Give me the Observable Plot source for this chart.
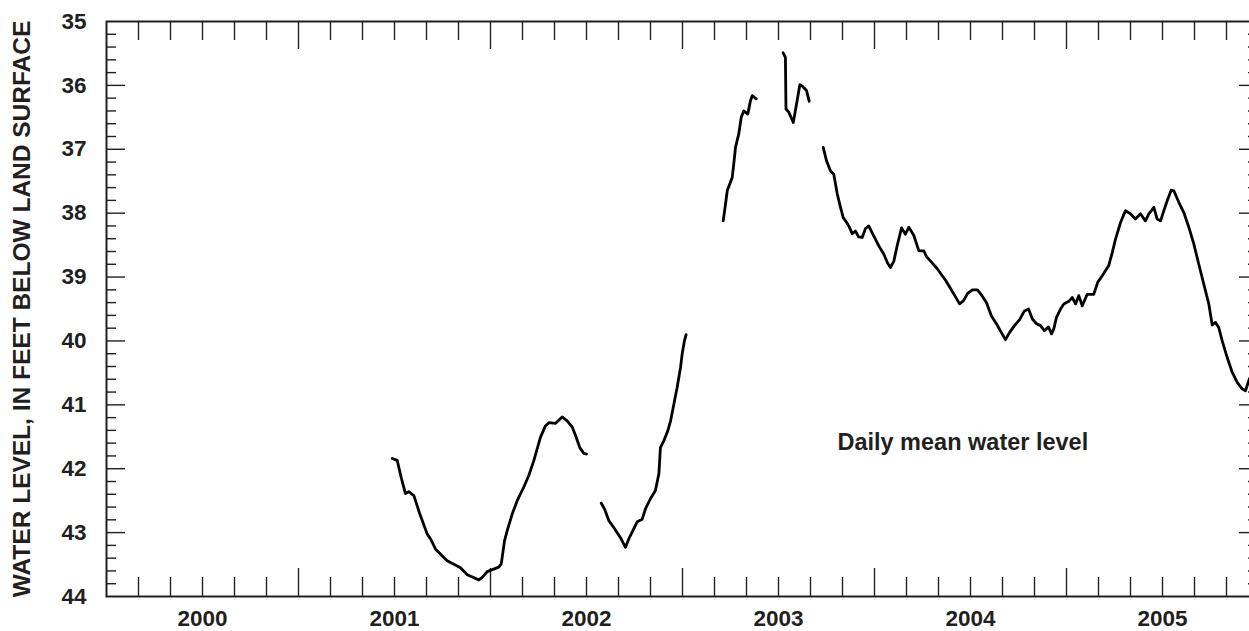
<!DOCTYPE html>
<html><head><meta charset="utf-8">
<script src="https://cdn.jsdelivr.net/npm/d3@7"></script>
<script src="https://cdn.jsdelivr.net/npm/@observablehq/plot@0.6"></script>
<style>html,body{margin:0;padding:0;overflow:hidden;background:#fff}svg{max-width:none!important}</style>
</head><body><div id="chart"></div>
<script>
// Decimal calendar year, water level (feet below land surface)
const seg1 = [[2001.238,41.84],[2001.264,41.87],[2001.285,42.14],[2001.307,42.39],[2001.324,42.36],[2001.351,42.42],[2001.382,42.71],[2001.420,43.02],[2001.438,43.10],[2001.464,43.26],[2001.524,43.44],[2001.594,43.55],[2001.629,43.66],[2001.689,43.74],[2001.707,43.70],[2001.733,43.61],[2001.793,43.54],[2001.806,43.49],[2001.823,43.13],[2001.837,42.97],[2001.863,42.71],[2001.889,42.50],[2001.923,42.29],[2001.949,42.11],[2001.976,41.87],[2002.010,41.51],[2002.036,41.33],[2002.054,41.28],[2002.089,41.29],[2002.123,41.19],[2002.149,41.25],[2002.176,41.35],[2002.193,41.48],[2002.215,41.67],[2002.236,41.76],[2002.250,41.77]];
const seg2 = [[2002.327,42.54],[2002.344,42.63],[2002.366,42.81],[2002.392,42.92],[2002.427,43.08],[2002.453,43.23],[2002.470,43.10],[2002.496,42.94],[2002.514,42.83],[2002.540,42.79],[2002.557,42.63],[2002.583,42.47],[2002.609,42.34],[2002.627,42.08],[2002.635,41.67],[2002.653,41.56],[2002.673,41.41],[2002.688,41.25],[2002.705,40.99],[2002.722,40.73],[2002.740,40.41],[2002.748,40.21],[2002.760,40.00],[2002.769,39.90]];
const seg3 = [[2002.962,38.12],[2002.974,37.86],[2002.983,37.65],[2003.009,37.44],[2003.017,37.23],[2003.026,36.97],[2003.043,36.76],[2003.056,36.50],[2003.069,36.40],[2003.090,36.45],[2003.104,36.24],[2003.113,36.16],[2003.134,36.21]];
const seg4 = [[2003.274,35.49],[2003.286,35.56],[2003.289,36.37],[2003.304,36.42],[2003.327,36.58],[2003.347,36.24],[2003.361,35.99],[2003.373,36.01],[2003.396,36.08],[2003.410,36.25]];
const seg5 = [[2003.483,36.97],[2003.500,37.18],[2003.521,37.34],[2003.538,37.39],[2003.556,37.70],[2003.573,37.91],[2003.587,38.07],[2003.599,38.12],[2003.616,38.20],[2003.634,38.32],[2003.651,38.28],[2003.667,38.37],[2003.686,38.38],[2003.703,38.24],[2003.720,38.20],[2003.738,38.31],[2003.750,38.38],[2003.772,38.51],[2003.798,38.64],[2003.818,38.78],[2003.833,38.85],[2003.851,38.75],[2003.868,38.51],[2003.891,38.23],[2003.911,38.33],[2003.929,38.22],[2003.955,38.35],[2003.981,38.59],[2004.007,38.59],[2004.021,38.68],[2004.042,38.75],[2004.077,38.87],[2004.103,38.98],[2004.120,39.05],[2004.146,39.18],[2004.172,39.31],[2004.193,39.42],[2004.214,39.37],[2004.234,39.26],[2004.260,39.20],[2004.286,39.20],[2004.307,39.28],[2004.333,39.40],[2004.359,39.61],[2004.385,39.73],[2004.411,39.87],[2004.432,39.98],[2004.453,39.87],[2004.479,39.76],[2004.505,39.67],[2004.531,39.53],[2004.552,39.50],[2004.573,39.66],[2004.594,39.73],[2004.615,39.76],[2004.635,39.84],[2004.656,39.78],[2004.672,39.89],[2004.684,39.81],[2004.698,39.63],[2004.719,39.50],[2004.736,39.42],[2004.762,39.38],[2004.780,39.32],[2004.797,39.42],[2004.814,39.29],[2004.832,39.45],[2004.858,39.27],[2004.892,39.27],[2004.913,39.08],[2004.936,38.98],[2004.953,38.90],[2004.970,38.82],[2004.988,38.62],[2005.005,38.41],[2005.031,38.15],[2005.057,37.96],[2005.083,38.01],[2005.109,38.09],[2005.135,38.01],[2005.161,38.12],[2005.179,38.01],[2005.205,37.91],[2005.222,38.09],[2005.240,38.12],[2005.257,37.96],[2005.274,37.81],[2005.295,37.64],[2005.309,37.65],[2005.335,37.83],[2005.361,37.99],[2005.387,38.22],[2005.413,38.48],[2005.439,38.80],[2005.465,39.11],[2005.491,39.42],[2005.509,39.75],[2005.526,39.71],[2005.543,39.79],[2005.561,40.00],[2005.587,40.26],[2005.613,40.49],[2005.639,40.65],[2005.665,40.75],[2005.682,40.78],[2005.703,40.59],[2005.720,40.52]];

const yTicks = [35, 36, 37, 38, 39, 40, 41, 42, 43, 44];
const yearLabels = ["2000", "2001", "2002", "2003", "2004", "2005"];
const yearMids = [2000.25, 2001.25, 2002.25, 2003.25, 2004.25, 2005.25];   // middle of each water year
const yearBounds = [2000.75, 2001.75, 2002.75, 2003.75, 2004.75];          // October 1 boundaries
const xDomain = [1999.75, 2005.75];
const yDomain = [35, 44];
const titleText = "WATER LEVEL, IN FEET BELOW LAND SURFACE";
const notes = [{x: 2004.21, y: 41.59, text: "Daily mean water level"}];

const segments = [seg1, seg2, seg3, seg4, seg5];
const data = segments.flatMap((s, i) => s.map(([t, v]) => ({t, v, seg: i})));

// two-month ticks
const monthTicks = d3.range(1, 36).map(k => xDomain[0] + k / 6).filter(t => !yearBounds.some(b => Math.abs(b - t) < 1e-6));
const minorY = d3.range(1, 45).map(k => 35 + k * 0.2).filter(v => Math.abs(v - Math.round(v)) > 1e-6);
const majorY = yTicks.slice(1, -1);

const W = 1262, H = 631, mL = 106, mR = 4, mT = 21, mB = 35;
const innerW = W - mL - mR, innerH = H - mT - mB;
const ink = "#231f20";

const chart = Plot.plot({
  width: W, height: H,
  marginLeft: mL, marginRight: mR, marginTop: mT, marginBottom: mB,
  x: {domain: xDomain, axis: null},
  y: {domain: yDomain, reverse: true, axis: null},
  style: {fontFamily: "'Liberation Sans', Arial, Helvetica, sans-serif", color: ink, background: "#fff", overflow: "visible", maxWidth: "none"},
  marks: [
    // top ticks
    Plot.ruleX(monthTicks, {x: d => d, stroke: ink, strokeWidth: 1.4, insetBottom: innerH - 19}),
    Plot.ruleX(yearBounds, {x: d => d, stroke: ink, strokeWidth: 1.4, insetBottom: innerH - 28}),
    // bottom ticks
    Plot.ruleX(monthTicks, {x: d => d, stroke: ink, strokeWidth: 1.4, insetTop: innerH - 19}),
    Plot.ruleX(yearBounds, {x: d => d, stroke: ink, strokeWidth: 1.4, insetTop: innerH - 28}),
    // left ticks
    Plot.ruleY(majorY, {y: d => d, stroke: ink, strokeWidth: 1.4, insetRight: innerW - 19}),
    Plot.ruleY(minorY, {y: d => d, stroke: ink, strokeWidth: 1.4, insetRight: innerW - 10}),
    // right ticks
    Plot.ruleY(majorY, {y: d => d, stroke: ink, strokeWidth: 1.4, insetLeft: innerW - 19}),
    Plot.ruleY(minorY, {y: d => d, stroke: ink, strokeWidth: 1.4, insetLeft: innerW - 10}),
    Plot.frame({stroke: ink, strokeWidth: 2}),
    // data
    Plot.line(data, {x: "t", y: "v", z: "seg", stroke: "#000", strokeWidth: 2.8, strokeLinejoin: "round", strokeLinecap: "round"}),
    // y tick labels
    Plot.text(yTicks, {y: d => d, text: d => String(d), frameAnchor: "left", dx: -20, textAnchor: "end", lineAnchor: "middle", fontSize: 22.5, fontWeight: "bold", fill: ink}),
    // year labels
    Plot.text(yearLabels, {x: (d, i) => yearMids[i], text: d => d, frameAnchor: "bottom", dy: 22.5, lineAnchor: "middle", fontSize: 22.5, fontWeight: "bold", fill: ink}),
    // y title
    Plot.text([titleText], {text: d => d, frameAnchor: "left", dx: -84, rotate: -90, textAnchor: "middle", lineAnchor: "middle", fontSize: 24.5, fontWeight: "bold", fill: ink}),
    // annotation
    Plot.text(notes, {x: "x", y: "y", text: "text", lineAnchor: "middle", fontSize: 23.5, fontWeight: "bold", fill: ink})
  ]
});
document.getElementById("chart").appendChild(chart);
</script>
</body></html>
